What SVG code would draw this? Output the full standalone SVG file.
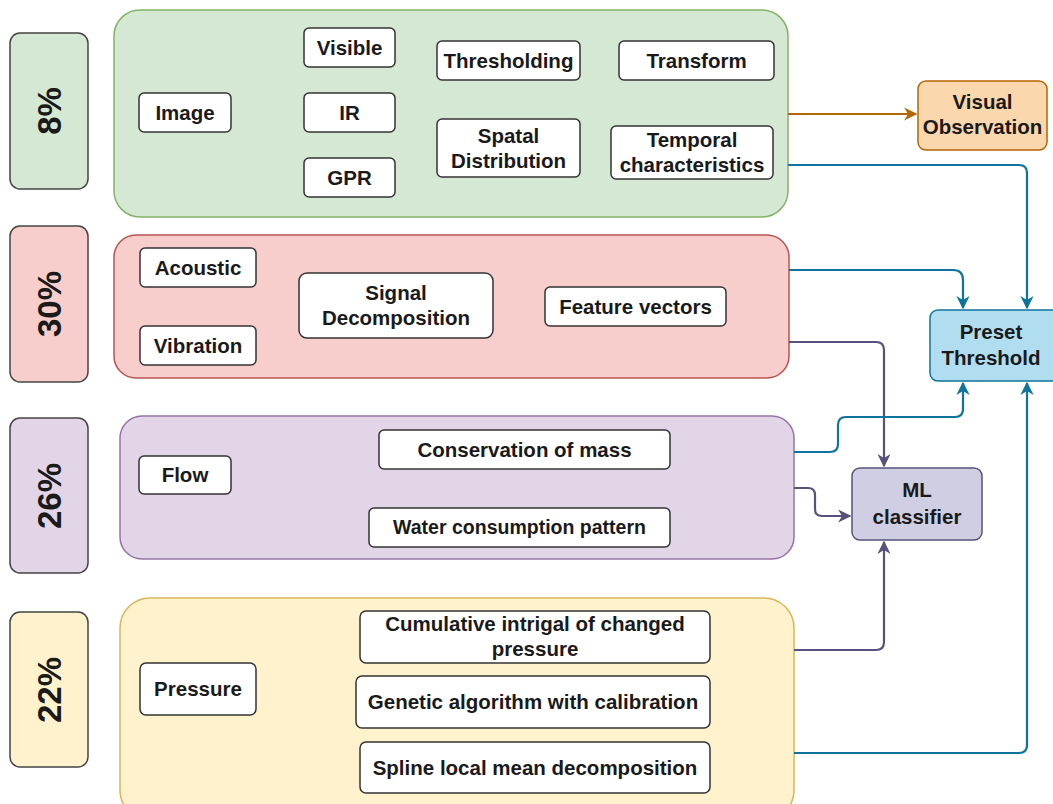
<svg xmlns="http://www.w3.org/2000/svg" width="1053" height="804" viewBox="0 0 1053 804">
<style>
text{font-family:"Liberation Sans",Arial,sans-serif;font-weight:bold;fill:#1a1a1a;text-anchor:middle}
.t{font-size:20.5px}
.p{font-size:33px}
.box{fill:#fff;stroke:#333;stroke-width:1.5}
.side{stroke:#444;stroke-width:1.5}
.c{fill:none;stroke-width:2.2}
</style>
<defs>
<marker id="ab" viewBox="0 0 10 10" refX="9" refY="5" markerWidth="6" markerHeight="6" orient="auto"><path d="M0,0 L10,5 L0,10 L3,5 z" fill="#10739e"/></marker>
<marker id="ap" viewBox="0 0 10 10" refX="9" refY="5" markerWidth="6" markerHeight="6" orient="auto"><path d="M0,0 L10,5 L0,10 L3,5 z" fill="#56517e"/></marker>
<marker id="ao" viewBox="0 0 10 10" refX="9" refY="5" markerWidth="6" markerHeight="6" orient="auto"><path d="M0,0 L10,5 L0,10 L3,5 z" fill="#b46504"/></marker>
</defs>

<g id="pct8"><rect class="side" x="10" y="33" width="78" height="156" rx="10" fill="#d5e8d4"/><text class="p" transform="translate(61,111) rotate(-90)">8%</text></g>
<g id="pct30"><rect class="side" x="10" y="226" width="78" height="156" rx="10" fill="#f8cecc"/><text class="p" transform="translate(61,304) rotate(-90)">30%</text></g>
<g id="pct26"><rect class="side" x="10" y="418" width="78" height="155" rx="10" fill="#e1d5e7"/><text class="p" transform="translate(61,496) rotate(-90)">26%</text></g>
<g id="pct22"><rect class="side" x="10" y="612" width="78" height="155" rx="10" fill="#fff2cc"/><text class="p" transform="translate(61,690) rotate(-90)">22%</text></g>

<g id="image-group">
<rect x="114" y="10" width="674" height="207" rx="26" fill="#d5e8d4" stroke="#82b366" stroke-width="1.5"/>
<g id="image"><rect class="box" x="139" y="93" width="92" height="39" rx="5"/><text class="t" x="185" y="120">Image</text></g>
<g id="visible"><rect class="box" x="304" y="28" width="91" height="39" rx="5"/><text class="t" x="349.5" y="55">Visible</text></g>
<g id="ir"><rect class="box" x="304" y="93" width="91" height="39" rx="5"/><text class="t" x="349.5" y="120">IR</text></g>
<g id="gpr"><rect class="box" x="304" y="158" width="91" height="39" rx="5"/><text class="t" x="349.5" y="185">GPR</text></g>
<g id="thresholding"><rect class="box" x="437" y="41" width="143" height="39" rx="5"/><text class="t" x="508.5" y="68">Thresholding</text></g>
<g id="transform"><rect class="box" x="619" y="41" width="155" height="39" rx="5"/><text class="t" x="696.5" y="68">Transform</text></g>
<g id="spatal"><rect class="box" x="437" y="119" width="143" height="58" rx="5"/><text class="t" x="508.5" y="143">Spatal</text><text class="t" x="508.5" y="168">Distribution</text></g>
<g id="temporal"><rect class="box" x="611" y="126" width="162" height="53" rx="5"/><text class="t" x="692" y="147">Temporal</text><text class="t" x="692" y="172">characteristics</text></g>
</g>

<g id="acoustic-group">
<rect x="114" y="235" width="675" height="143" rx="22" fill="#f8cecc" stroke="#b85450" stroke-width="1.5"/>
<g id="acoustic"><rect class="box" x="140" y="248" width="116" height="39" rx="5"/><text class="t" x="198" y="275">Acoustic</text></g>
<g id="vibration"><rect class="box" x="140" y="326" width="116" height="39" rx="5"/><text class="t" x="198" y="353">Vibration</text></g>
<g id="signal"><rect class="box" x="299" y="273" width="194" height="65" rx="8"/><text class="t" x="396" y="300">Signal</text><text class="t" x="396" y="325">Decomposition</text></g>
<g id="feature"><rect class="box" x="545" y="287" width="181" height="39" rx="5"/><text class="t" x="635.5" y="314">Feature vectors</text></g>
</g>

<g id="flow-group">
<rect x="120" y="416" width="674" height="143" rx="22" fill="#e1d5e7" stroke="#9673a6" stroke-width="1.5"/>
<g id="flow"><rect class="box" x="139" y="456" width="92" height="38" rx="5"/><text class="t" x="185" y="482">Flow</text></g>
<g id="conservation"><rect class="box" x="379" y="430" width="291" height="39" rx="5"/><text class="t" x="524.5" y="457">Conservation of mass</text></g>
<g id="water"><rect class="box" x="369" y="508" width="301" height="39" rx="5"/><text class="t" x="519.5" y="534" style="font-size:19.5px">Water consumption pattern</text></g>
</g>

<g id="pressure-group">
<rect x="120" y="598" width="674" height="222" rx="30" fill="#fff2cc" stroke="#d6b656" stroke-width="1.5"/>
<g id="pressure"><rect class="box" x="140" y="663" width="116" height="52" rx="6"/><text class="t" x="198" y="696">Pressure</text></g>
<g id="cumulative"><rect class="box" x="360" y="611" width="350" height="52" rx="6"/><text class="t" x="535" y="631">Cumulative intrigal of changed</text><text class="t" x="535" y="656">pressure</text></g>
<g id="genetic"><rect class="box" x="356" y="676" width="354" height="52" rx="6"/><text class="t" x="533" y="709">Genetic algorithm with calibration</text></g>
<g id="spline"><rect class="box" x="360" y="742" width="350" height="51" rx="6"/><text class="t" x="535" y="775">Spline local mean decomposition</text></g>
</g>

<g id="visual-observation"><rect x="918" y="81" width="129" height="69" rx="8" fill="#fad7ac" stroke="#b46504" stroke-width="1.5"/><text class="t" x="982.5" y="109">Visual</text><text class="t" x="982.5" y="134">Observation</text></g>
<g id="preset-threshold"><rect x="930" y="310" width="130" height="71" rx="8" fill="#b1ddf0" stroke="#10739e" stroke-width="1.5"/><text class="t" x="991" y="339">Preset</text><text class="t" x="991" y="365">Threshold</text></g>
<g id="ml-classifier"><rect x="852" y="468" width="130" height="72" rx="8" fill="#d0cee2" stroke="#56517e" stroke-width="1.5"/><text class="t" x="917" y="497">ML</text><text class="t" x="917" y="524">classifier</text></g>

<g id="connectors">
<path class="c" stroke="#b46504" d="M788,114 L916,114" marker-end="url(#ao)"/>
<path class="c" stroke="#10739e" d="M788,165 L1019,165 Q1027,165 1027,173 L1027,308" marker-end="url(#ab)"/>
<path class="c" stroke="#10739e" d="M789,270 L953,270 Q963,270 963,280 L963,308" marker-end="url(#ab)"/>
<path class="c" stroke="#56517e" d="M789,342 L876,342 Q884,342 884,350 L884,466" marker-end="url(#ap)"/>
<path class="c" stroke="#10739e" d="M794,452 L830,452 Q838,452 838,444 L838,425 Q838,417 846,417 L955,417 Q963,417 963,409 L963,383" marker-end="url(#ab)"/>
<path class="c" stroke="#56517e" d="M794,488 L808,488 Q815,488 815,495 L815,509 Q815,516 822,516 L850,516" marker-end="url(#ap)"/>
<path class="c" stroke="#56517e" d="M794,650 L876,650 Q884,650 884,642 L884,542" marker-end="url(#ap)"/>
<path class="c" stroke="#10739e" d="M794,753 L1019,753 Q1027,753 1027,745 L1027,383" marker-end="url(#ab)"/>
</g>
</svg>
